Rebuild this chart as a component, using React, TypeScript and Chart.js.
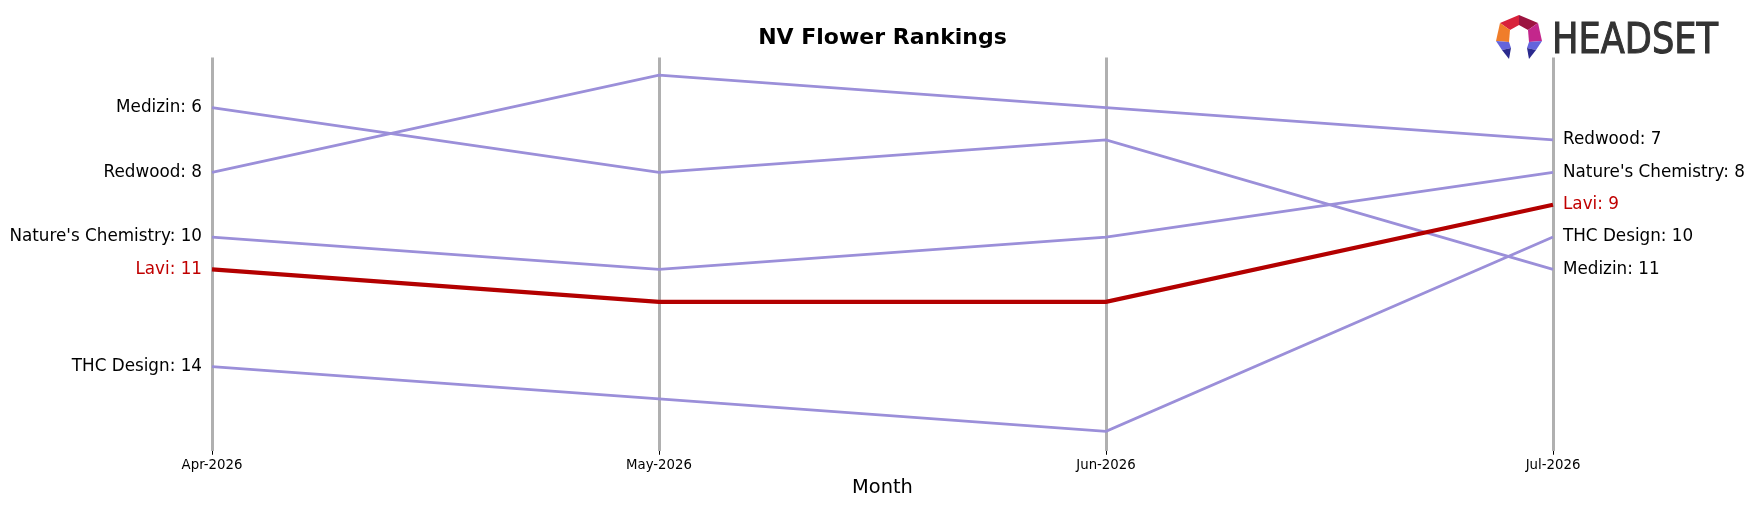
import React, { useEffect, useRef } from "react";
import { Chart, registerables } from "chart.js";

Chart.register(...registerables);

const months = ["Apr-2026", "May-2026", "Jun-2026", "Jul-2026"];
const brands = ["Lavi", "Medizin", "Redwood", "Nature's Chemistry", "THC Design"];
const laviRanks = [11, 12, 12, 9];
const medizinRanks = [6, 8, 7, 11];
const redwoodRanks = [8, 5, 6, 7];
const naturesChemistryRanks = [10, 11, 10, 8];
const thcDesignRanks = [14, 15, 16, 10];
const seriesRanks = [laviRanks, medizinRanks, redwoodRanks, naturesChemistryRanks, thcDesignRanks];
const highlightBrand = "Lavi";

const PURPLE = "#9b8fd9";
const RED = "#b30000";
const RED_TEXT = "#c00000";
const FONT = "'DejaVu Sans', 'Liberation Sans', sans-serif";

function labelsAt(idx: number) {
  return brands.map((b, i) => ({ brand: b, rank: seriesRanks[i][idx] }));
}

const logoPlugin = {
  id: "headsetLogo",
  afterDraw(chart: any) {
    const ctx = chart.ctx as CanvasRenderingContext2D;
    ctx.save();
    const poly = (pts: number[][], color: string) => {
      ctx.beginPath();
      ctx.moveTo(pts[0][0], pts[0][1]);
      for (let i = 1; i < pts.length; i++) ctx.lineTo(pts[i][0], pts[i][1]);
      ctx.closePath();
      ctx.fillStyle = color;
      ctx.fill();
    };
    const O0 = [1519, 15], O1 = [1500, 23], O2 = [1496, 41], O3 = [1509, 59];
    const P1 = [1538, 23], P2 = [1542, 41], P3 = [1529, 59];
    const I0 = [1519, 25], I1 = [1510, 30], I2 = [1509, 42], M2 = [1502, 50];
    const J1 = [1528, 30], J2 = [1529, 42], N2 = [1536, 50];
    poly([O0, O1, I1, I0], "#d8223b");
    poly([O0, P1, J1, I0], "#9c1340");
    poly([O1, O2, I2, I1], "#f07d2a");
    poly([P1, P2, J2, J1], "#c3278c");
    poly([O2, I2, [1511, 48], M2], "#6464dc");
    poly([M2, [1511, 48], O3], "#2b2a8e");
    poly([P2, J2, [1527, 48], N2], "#6464dc");
    poly([N2, [1527, 48], P3], "#2b2a8e");
    ctx.font = `42px 'DejaVu Sans Condensed', 'DejaVu Sans', sans-serif`;
    ctx.fillStyle = "#333333";
    ctx.strokeStyle = "#333333";
    ctx.lineWidth = 1;
    ctx.textBaseline = "alphabetic";
    ctx.textAlign = "left";
    const w = ctx.measureText("HEADSET").width;
    ctx.translate(1552, 53);
    ctx.scale(166 / w, 1);
    ctx.fillText("HEADSET", 0, 0);
    ctx.strokeText("HEADSET", 0, 0);
    ctx.restore();
  },
};

export default function App() {
  const ref = useRef<HTMLCanvasElement | null>(null);
  useEffect(() => {
    document.body.style.margin = "0";
    if (!ref.current) return;
    const leftLabels = labelsAt(0);
    const rightLabels = labelsAt(3);
    const nameFor = (list: { brand: string; rank: number }[], v: number) => {
      const f = list.find((l) => l.rank === v);
      return f ? `${f.brand}: ${v}` : "";
    };
    const colorFor = (list: { brand: string; rank: number }[], v: number) => {
      const f = list.find((l) => l.rank === v);
      return f && f.brand === highlightBrand ? RED_TEXT : "#000000";
    };
    const chart = new Chart(ref.current, {
      type: "line",
      data: {
        labels: months,
        datasets: brands.map((b, i) => ({
          label: b,
          data: seriesRanks[i],
          borderColor: b === highlightBrand ? RED : PURPLE,
          borderWidth: b === highlightBrand ? 4.2 : 2.8,
          pointRadius: 0,
          tension: 0,
          fill: false,
        })),
      },
      options: {
        responsive: false,
        animation: false,
        layout: { padding: 0 },
        plugins: {
          legend: { display: false },
          tooltip: { enabled: false },
          title: {
            display: true,
            text: "NV Flower Rankings",
            fullSize: false,
            font: { family: FONT, size: 22, weight: "bold" },
            color: "#000000",
            padding: { top: 25, bottom: 6 },
          },
        },
        scales: {
          x: {
            type: "category",
            offset: false,
            border: { display: false },
            grid: {
              display: true,
              drawOnChartArea: true,
              drawTicks: true,
              color: "#b0b0b0",
              lineWidth: 3,
              tickColor: "#000000",
              tickWidth: 1,
              tickLength: 4,
            },
            ticks: {
              font: { family: FONT, size: 13.3 },
              color: "#000000",
              padding: 3,
              maxRotation: 0,
              autoSkip: false,
            },
            title: {
              display: true,
              text: "Month",
              font: { family: FONT, size: 19.4 },
              color: "#000000",
              padding: { top: 0, bottom: 7 },
            },
          },
          y: {
            type: "linear",
            position: "left",
            reverse: true,
            min: 4.45,
            max: 16.6,
            border: { display: false },
            grid: { display: false, drawTicks: false },
            afterBuildTicks: (axis: any) => {
              axis.ticks = leftLabels.map((l) => ({ value: l.rank }));
            },
            afterFit: (axis: any) => {
              axis.width = 212;
            },
            ticks: {
              font: { family: FONT, size: 16.8 },
              padding: 10,
              autoSkip: false,
              color: (c: any) => colorFor(leftLabels, c.tick.value),
              callback: (v: any) => nameFor(leftLabels, Number(v)),
            },
          },
          y2: {
            type: "linear",
            position: "right",
            reverse: true,
            min: 4.45,
            max: 16.6,
            border: { display: false },
            grid: { display: false, drawTicks: false },
            afterBuildTicks: (axis: any) => {
              axis.ticks = rightLabels.map((l) => ({ value: l.rank }));
            },
            afterFit: (axis: any) => {
              axis.width = 201;
            },
            ticks: {
              font: { family: FONT, size: 16.8 },
              padding: 10,
              autoSkip: false,
              color: (c: any) => colorFor(rightLabels, c.tick.value),
              callback: (v: any) => nameFor(rightLabels, Number(v)),
            },
          },
        },
      },
      plugins: [logoPlugin],
    });
    return () => chart.destroy();
  }, []);
  return (
    <div style={{ width: 1754, height: 507 }}>
      <canvas ref={ref} width={1754} height={507} style={{ display: "block" }} />
    </div>
  );
}
